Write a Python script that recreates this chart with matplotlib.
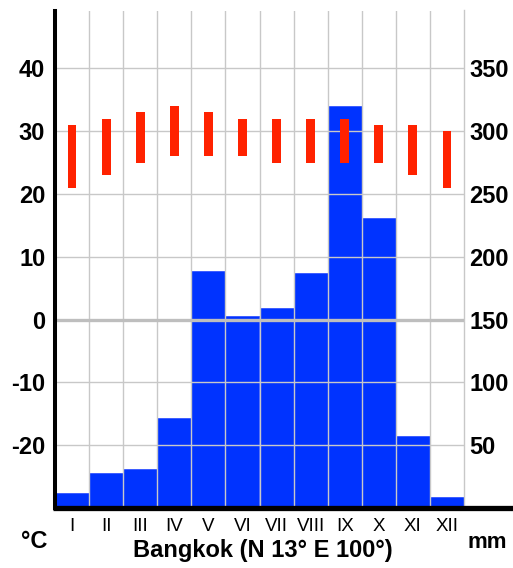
import matplotlib
matplotlib.use("Agg")
import matplotlib.pyplot as plt
import numpy as np

months = ["I", "II", "III", "IV", "V", "VI", "VII", "VIII", "IX", "X", "XI", "XII"]
precip_mm = [12, 28, 31, 72, 189, 153, 159, 187, 320, 231, 57, 9]
temp_max = [31, 32, 33, 34, 33, 32, 32, 32, 32, 31, 31, 30]
temp_min = [21, 23, 25, 26, 26, 26, 25, 25, 25, 25, 23, 21]
temp_ticks = [-20, -10, 0, 10, 20, 30, 40]
mm_ticks = [50, 100, 150, 200, 250, 300, 350]

plt.rcParams['font.family'] = ['Liberation Sans', 'DejaVu Sans']

W, H = 513, 568
fig = plt.figure(figsize=(W / 100, H / 100), dpi=100)
L, R, T, B = 55, 464, 10.5, 508
ax = fig.add_axes([L / W, (H - B) / H, (R - L) / W, (B - T) / H])
ax2 = ax.twinx()

tmin_lim, tmax_lim = -30, 49.2
ax.set_ylim(tmin_lim, tmax_lim)
ax2.set_ylim(150 + 5 * tmin_lim, 150 + 5 * tmax_lim)
ax.set_xlim(0, 12)

ax.set_zorder(2)
ax2.set_zorder(1)
ax.patch.set_visible(False)

x = np.arange(12) + 0.5
# precipitation bars
ax2.bar(x, precip_mm, width=1.0, color='#0033FF', edgecolor='#3355FF', linewidth=0.6, zorder=1)

# grid
grid_c = '#C8C8C8'
for t in temp_ticks:
    if t == 0:
        continue
    ax.axhline(t, color=grid_c, lw=1.0, zorder=1)
for i in range(1, 12):
    ax.axvline(i, color=grid_c, lw=1.0, zorder=1)
ax.axhline(0, color='#BEBEBE', lw=2.4, zorder=1.5)

# temperature bars
ax.bar(x, np.array(temp_max) - np.array(temp_min), bottom=temp_min, width=0.26,
       color='#FF2200', linewidth=0, zorder=3)

# spines
for a in (ax, ax2):
    a.spines['top'].set_visible(False)
ax.spines['right'].set_visible(False)
ax2.spines['left'].set_visible(False)
ax2.spines['bottom'].set_visible(False)
ax2.spines['right'].set_color(grid_c)
ax2.spines['right'].set_linewidth(1.0)
ax.spines['left'].set_linewidth(2.9)
ax.spines['left'].set_color('black')
ax.spines['bottom'].set_visible(False)
# bottom thick line extending to figure edge
ax.plot([-0.006, (W - L) / (R - L)], [0, 0], transform=ax.transAxes, color='black',
        lw=3.8, clip_on=False, zorder=5, solid_capstyle='butt')

# ticks
ax.set_yticks(temp_ticks)
ax.set_yticklabels([str(t) for t in temp_ticks], fontsize=17, fontweight='bold')
ax.tick_params(axis='y', length=0, pad=7)
ax2.set_yticks(mm_ticks)
ax2.set_yticklabels([str(m) for m in mm_ticks], fontsize=17, fontweight='bold')
ax2.tick_params(axis='y', length=0, pad=4)
ax.set_xticks(x)
ax.set_xticklabels(months, fontsize=13.5)
ax.tick_params(axis='x', length=0, pad=7)

fig.text(34 / W, 1 - 541 / H, "°C", fontsize=17, fontweight='bold', ha='center', va='center')
fig.text(487 / W, 1 - 542 / H, "mm", fontsize=16, fontweight='bold', ha='center', va='center')
fig.text(263 / W, 1 - 551 / H, "Bangkok (N 13° E 100°)", fontsize=17, fontweight='bold',
         ha='center', va='center')

fig.savefig("out.png", dpi=100)
